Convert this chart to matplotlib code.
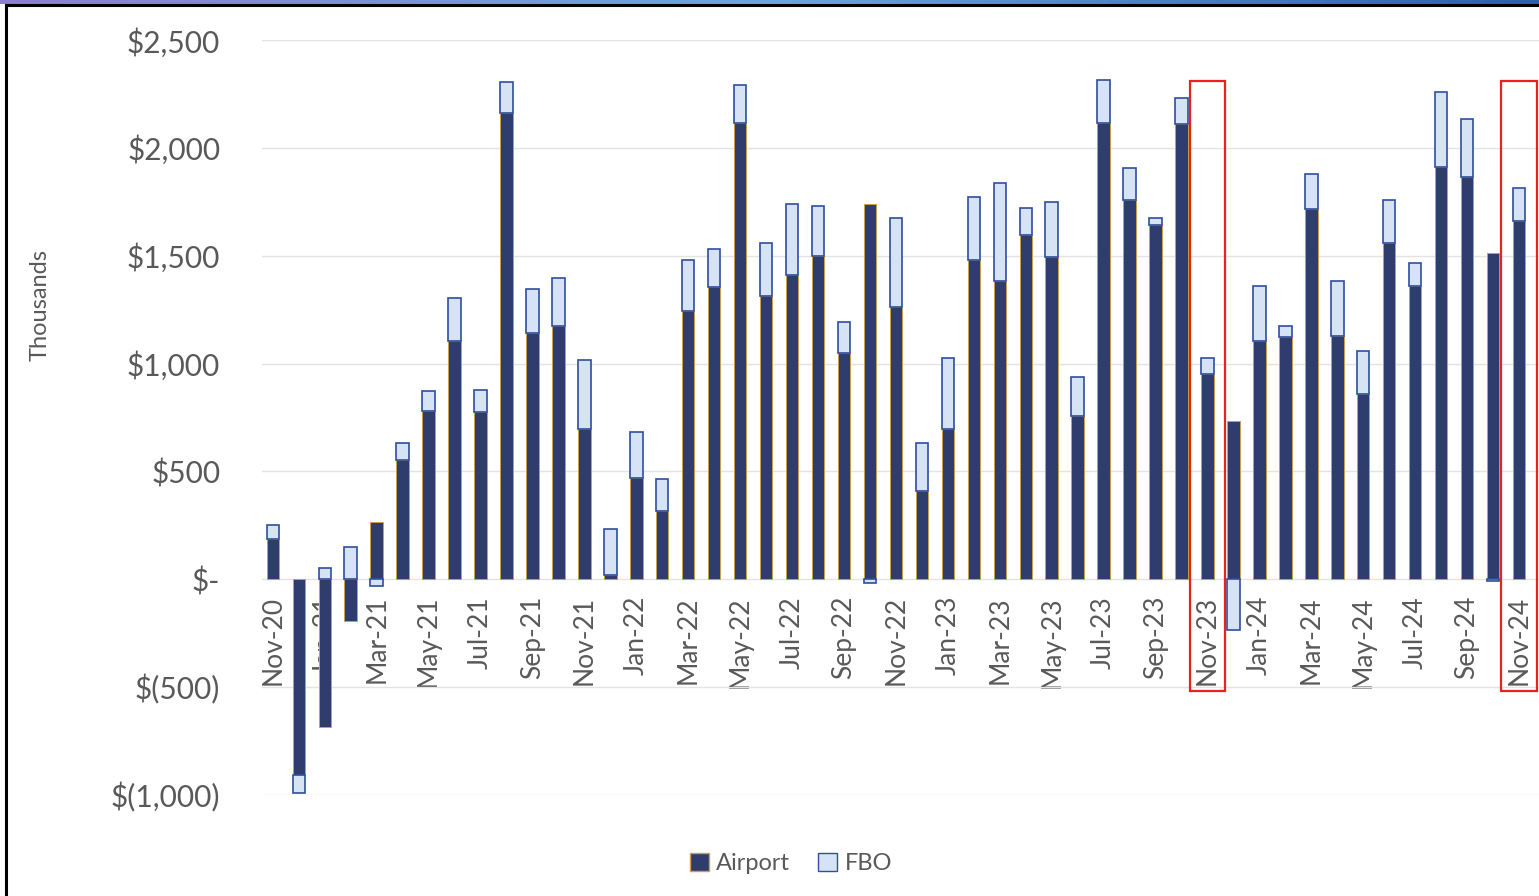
import numpy as np
import pandas as pd
import matplotlib
matplotlib.use("Agg")
import matplotlib.pyplot as plt
from matplotlib.patches import Rectangle, Patch
from matplotlib.ticker import FuncFormatter

# monthly values, in thousands of dollars
months = pd.date_range("2020-11-01", periods=49, freq="MS").strftime("%b-%y").tolist()
airport = [189, -905, -685, -193, 267, 551, 778, 1103, 775, 2161, 1140, 1175, 695, 19,
           468, 316, 1242, 1354, 2115, 1314, 1411, 1498, 1050, 1742, 1263, 408,
           695, 1482, 1383, 1594, 1495, 756, 2115, 1758, 1642, 2110, 954, 733,
           1106, 1125, 1718, 1130, 858, 1557, 1362, 1913, 1865, 1514, 1661]
fbo = [62, -85, 53, 149, -33, 80, 93, 200, 104, 146, 206, 224, 320, 213,
       216, 148, 237, 177, 176, 245, 327, 233, 141, -16, 411, 223,
       333, 292, 455, 128, 252, 182, 200, 147, 33, 123, 74, -237,
       256, 50, 159, 251, 199, 200, 104, 347, 269, -10, 152]
highlight = ["Nov-23", "Nov-24"]

plt.rcParams["font.family"] = ["Lato", "DejaVu Sans"]
grey = "#595959"
navy = "#2e3d6e"
light = "#d5e3f5"

fig = plt.figure(figsize=(15.39, 8.96), dpi=100)
ax = fig.add_axes([0.1702, 0.1127, 0.8298, 0.8426])
for s in ax.spines.values():
    s.set_visible(False)
ax.spines["bottom"].set_position(("data", 0))

x = np.arange(len(months))
airport = np.array(airport)
fbo = np.array(fbo)
# Excel stacks negatives and positives separately
fbo_bottom = np.where(np.sign(airport) == np.sign(fbo), airport, 0)

w = 0.48
ax.bar(x, airport, width=w, color=navy, edgecolor="#c9a24a", linewidth=0.7, zorder=2)
ax.bar(x, fbo, width=w, bottom=fbo_bottom, color=light, edgecolor="#2f4f9e",
       linewidth=1.2, zorder=2)

ax.set_ylim(-1000, 2500)
ax.set_xlim(-0.42, 48.77)
ax.set_yticks(np.arange(-1000, 2501, 500))


def money(v, pos):
    if v == 0:
        return "$-"
    if v < 0:
        return "$({:,.0f})".format(-v)
    return "${:,.0f}".format(v)


ax.yaxis.set_major_formatter(FuncFormatter(money))
ax.set_xticks(x[::2])
ax.set_xticklabels(months[::2])
ax.tick_params(axis="both", length=0, colors=grey)
ax.tick_params(axis="y", labelsize=21.5, pad=30)
ax.tick_params(axis="x", labelsize=19, pad=12, labelrotation=90)
ax.grid(axis="y", color="#e3e3e3", linewidth=1)
ax.set_axisbelow(True)

fig.text(0.026, 1 - 305 / 896, "Thousands", rotation=90, fontsize=17, color=grey,
         ha="center", va="center")

for m in highlight:
    i = months.index(m)
    ax.add_patch(Rectangle((i - 0.68, -520), 1.36, 2830, fill=False,
                           edgecolor="#e8231e", linewidth=1.6, clip_on=False, zorder=3))

handles = [Patch(facecolor=navy, edgecolor="#c9a24a", label="Airport"),
           Patch(facecolor=light, edgecolor="#2f4f9e", label="FBO")]
fig.legend(handles=handles, loc="center", bbox_to_anchor=(0.514, 0.036), ncol=2,
           frameon=False, fontsize=17, labelcolor=grey, handlelength=0.8,
           handleheight=0.8, handletextpad=0.3, columnspacing=1.2)

# frame of the slide
fig.add_artist(plt.Line2D([0.0042, 0.0042], [0, 0.994], color="black", linewidth=2.2))
fig.add_artist(plt.Line2D([0.0042, 1], [0.994, 0.994], color="black", linewidth=2.2))
strip = fig.add_axes([0, 0.9955, 1, 0.0045])
strip.imshow(np.linspace(0, 1, 200)[None, :], aspect="auto",
             cmap=matplotlib.colors.LinearSegmentedColormap.from_list(
                 "s", ["#8c7fd0", "#6aa6e0", "#2d5fb0"]))
strip.axis("off")

fig.savefig("out.png", dpi=100)
